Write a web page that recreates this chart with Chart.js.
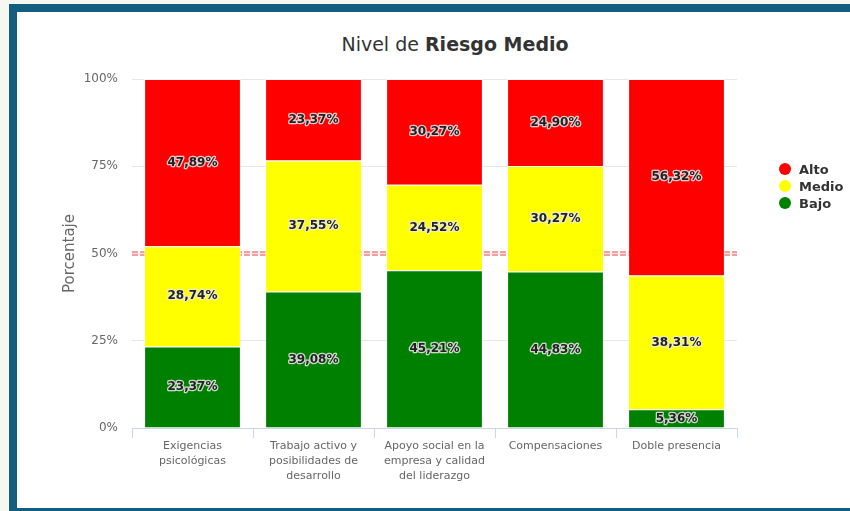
<!DOCTYPE html>
<html>
<head>
<meta charset="utf-8">
<script src="https://cdn.jsdelivr.net/npm/chart.js@4.4.1/dist/chart.umd.min.js"></script>
<style>
  html, body { margin:0; padding:0; width:850px; height:511px; overflow:hidden; background:#f7f7f2; font-family:"DejaVu Sans", sans-serif; }
  #frame { position:absolute; left:9px; top:4px; width:833px; height:496px; background:#fff;
           border-left:8px solid #135d80; border-top:8px solid #135d80; border-bottom:8px solid #135d80; }
  #c { position:absolute; left:17px; top:12px; }
  #title { position:absolute; left:255px; width:400px; top:33px; text-align:center; font-size:19px; color:#333; white-space:nowrap; }
  .lg { position:absolute; left:779px; height:16px; line-height:16px; font-size:13px; font-weight:bold; color:#333; white-space:nowrap; }
  .lg span { display:inline-block; width:12px; height:12px; border-radius:50%; vertical-align:-1px; margin-right:8px; }
</style>
</head>
<body>
<div id="frame"></div>
<div id="title">Nivel de <b>Riesgo Medio</b></div>
<canvas id="c" width="833" height="496"></canvas>
<div id="legend"></div>
<script>
const categories = [
  ["Exigencias", "psicológicas"],
  ["Trabajo activo y", "posibilidades de", "desarrollo"],
  ["Apoyo social en la", "empresa y calidad", "del liderazgo"],
  ["Compensaciones"],
  ["Doble presencia"]
];
const seriesNames = ["Bajo", "Medio", "Alto"];
const bajo  = [23.37, 39.08, 45.21, 44.83, 5.36];
const medio = [28.74, 37.55, 24.52, 30.27, 38.31];
const alto  = [47.89, 23.37, 30.27, 24.90, 56.32];
const seriesColors = ["#008000", "#ffff00", "#ff0000"];
const yTicks = [0, 25, 50, 75, 100];
const threshold = 50;
const legendOrder = ["Alto", "Medio", "Bajo"];

// HTML legend
(function(){
  const lg = document.getElementById('legend');
  const tops = [162, 179, 196];
  legendOrder.forEach((name, i) => {
    const idx = seriesNames.indexOf(name);
    const d = document.createElement('div');
    d.className = 'lg';
    d.style.top = tops[i] + 'px';
    d.innerHTML = '<span style="background:' + seriesColors[idx] + '"></span>' + name;
    lg.appendChild(d);
  });
})();

const thresholdPlugin = {
  id: 'threshold',
  beforeDatasetsDraw(chart) {
    const {ctx, chartArea, scales} = chart;
    const y = scales.y.getPixelForValue(threshold);
    ctx.save();
    ctx.strokeStyle = 'rgba(240,70,70,0.7)';
    ctx.lineWidth = 1.3;
    ctx.setLineDash([6, 2]);
    [-1.5, 1.5].forEach(o => {
      ctx.beginPath();
      ctx.moveTo(chartArea.left, y + o);
      ctx.lineTo(chartArea.right, y + o);
      ctx.stroke();
    });
    ctx.restore();
  }
};

const labelPlugin = {
  id: 'barLabels',
  afterDatasetsDraw(chart) {
    const {ctx} = chart;
    ctx.save();
    ctx.font = 'bold 12px "DejaVu Sans"';
    ctx.textAlign = 'center';
    ctx.textBaseline = 'middle';
    ctx.lineJoin = 'round';
    chart.data.datasets.forEach((ds, di) => {
      const meta = chart.getDatasetMeta(di);
      meta.data.forEach((el, i) => {
        const v = ds.data[i];
        const txt = v.toFixed(2).replace('.', ',') + '%';
        const y = (el.y + el.base) / 2;
        ctx.strokeStyle = 'rgba(235,235,235,0.85)';
        ctx.lineWidth = 2.5;
        ctx.strokeText(txt, el.x, y);
        ctx.fillStyle = '#222';
        ctx.fillText(txt, el.x, y);
      });
    });
    ctx.restore();
  }
};

new Chart(document.getElementById('c'), {
  type: 'bar',
  data: {
    labels: categories,
    datasets: [
      { label: seriesNames[0], data: bajo,  backgroundColor: seriesColors[0] },
      { label: seriesNames[1], data: medio, backgroundColor: seriesColors[1] },
      { label: seriesNames[2], data: alto,  backgroundColor: seriesColors[2] }
    ].map(d => Object.assign(d, { borderColor: 'rgba(255,255,255,0.6)', borderWidth: 1, barPercentage: 1, categoryPercentage: 0.8 }))
  },
  options: {
    responsive: false,
    animation: false,
    devicePixelRatio: 1,
    layout: { padding: { top: 67, right: 113, left: 0, bottom: 0 } },
    plugins: { legend: { display: false }, title: { display: false }, tooltip: { enabled: false } },
    scales: {
      x: {
        stacked: true,
        border: { display: true, color: '#ccd6eb', width: 1 },
        grid: { display: true, drawOnChartArea: false, drawTicks: true, tickLength: 10, color: '#ccd6eb', offset: true },
        ticks: { color: '#666', font: { family: 'DejaVu Sans', size: 11, lineHeight: 1.4 }, padding: 0, maxRotation: 0, autoSkip: false },
        afterFit(scale) { scale.height = 80; }
      },
      y: {
        stacked: true,
        min: 0, max: 100,
        afterBuildTicks(scale) { scale.ticks = yTicks.map(v => ({ value: v })); },
        border: { display: false },
        grid: { color: '#e6e6e6', drawTicks: false, lineWidth: 1 },
        ticks: { color: '#666', font: { family: 'DejaVu Sans', size: 12 }, padding: 14, callback: v => v + '%' },
        title: { display: true, text: 'Porcentaje', color: '#666', font: { family: 'DejaVu Sans', size: 15 }, padding: { top: 44, bottom: 0 } },
        afterFit(scale) { scale.width = 115; }
      }
    }
  },
  plugins: [thresholdPlugin, labelPlugin]
});
</script>
</body>
</html>
